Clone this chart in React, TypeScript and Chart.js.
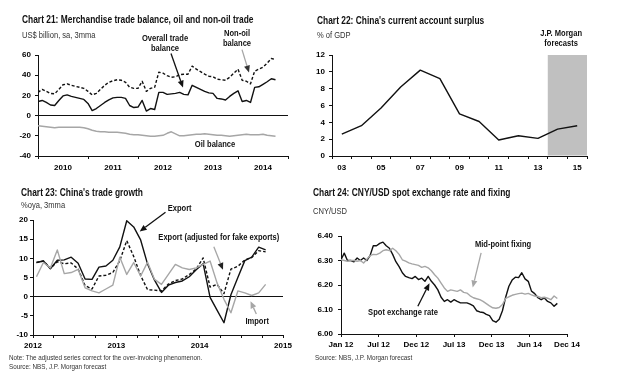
import React, { useEffect, useRef } from 'react';
import { Chart, registerables } from 'chart.js';

Chart.register(...registerables);

const FONT = '"Liberation Sans Narrow", "Arial Narrow", "Liberation Sans", Arial, sans-serif';
const INK = '#111111';
const GREY = '#a6a6a6';
const CONDENSE = 0.84;

// ---------------- Chart 21: monthly, Jan 2010 onwards (US$ bn) ----------------
const c21FirstYear = 2010;
const c21YearLabels = ['2010', '2011', '2012', '2013', '2014'];
const c21Overall = [14, 15, 13, 10.5, 10, 15, 19.5, 20.5, 19, 18, 17, 16, 12, 5, 7, 10, 13, 15.5, 17.5, 18, 18, 17, 10, 8, 8.5, 15, 4.5, 7, 6, 23, 23, 21, 21.5, 22, 23, 21, 20.5, 30, 28, 26, 24, 22.5, 22, 17, 16.5, 15.5, 19, 22, 24.5, 14, 15, 13, 28, 28.5, 31, 33.5, 36.5, 35.5];
const c21NonOil = [23, 26, 24, 22, 21.5, 26, 30.5, 31.5, 30, 29, 28, 27, 24, 20.5, 22, 26, 30, 33, 34.5, 35.5, 35, 33, 28, 27, 27, 34, 24, 27, 28, 43, 42, 39.5, 38, 38.5, 40.5, 41, 41, 49, 46, 43.5, 41, 39, 38.5, 36, 35.5, 35, 38, 42, 46, 35, 34, 31.5, 44, 46, 48, 52, 56.5, 55.5];
const c21Oil = [-10, -10.5, -11, -11.5, -12, -11.5, -11.5, -11.5, -11.5, -11.5, -11.5, -12, -13, -14.5, -15.5, -16, -16, -16.5, -16.5, -16.5, -17, -17.5, -18.5, -19, -19, -19.5, -20, -20.5, -20.5, -20, -19.5, -17.5, -16, -18, -20, -20, -19.5, -19, -18.5, -18.5, -18, -18.5, -19, -19.5, -19.5, -20, -20.5, -20, -19.5, -19, -18.5, -19, -19, -19, -18.5, -19.5, -20, -20.5];

// ---------------- Chart 22: annual, % of GDP ----------------
const c22Years = ['03', '04', '05', '06', '07', '08', '09', '10', '11', '12', '13', '14', '15'];
const c22Surplus = [2.6, 3.6, 5.7, 8.2, 10.2, 9.2, 5.0, 4.1, 1.9, 2.4, 2.1, 3.2, 3.6];
const c22ForecastStart = '14';

// ---------------- Chart 23: monthly, Jan 2012 onwards (%oya, 3mma) ----------------
const c23FirstYear = 2012;
const c23YearLabels = ['2012', '2013', '2014', '2015'];
const c23Export = [8.9, 9.3, 7.3, 9.5, 9.6, 10.3, 8.7, 4.6, 4.5, 7.7, 8.0, 9.5, 13.0, 19.8, 18.2, 14.8, 8.5, 4.3, 1.1, 3.0, 3.7, 4.1, 5.2, 7.0, 8.6, -0.2, -3.5, -6.8, 0.5, 5.0, 9.4, 10.3, 12.9, 12.2];
const c23ExportAdj = [8.9, 9.3, 7.4, 9.1, 8.6, 8.8, 7.2, 2.9, 2.0, 5.4, 5.6, 6.3, 9.4, 14.6, 10.5, 5.5, 1.8, 1.7, 1.5, 3.3, 4.2, 4.6, 5.8, 7.2, 10.1, 2.5, 3.2, 0.8, 7.2, 7.9, 9.6, 10.2, 12.0, 11.7];
const c23Import = [5.2, 8.9, 7.5, 12.2, 6.0, 6.3, 7.1, 2.3, 1.5, 1.0, 2.0, 3.0, 10.3, 5.8, 8.9, 5.4, 9.0, 4.5, 3.2, 5.8, 8.4, 7.5, 7.1, 7.5, 8.4, 9.3, 3.6, -0.7, -4.2, 1.5, 1.0, 0.3, 1.0, 3.2];

// ---------------- Chart 24: half-monthly from Jan 2012 (CNY per USD) ----------------
const c24TickLabels = ['Jan 12', 'Jul 12', 'Dec 12', 'Jul 13', 'Dec 13', 'Jun 14', 'Dec 14'];
const c24AxisMonths = 35;
const c24StepMonths = 0.5;
const c24Spot = [6.303, 6.33, 6.30, 6.30, 6.295, 6.31, 6.30, 6.31, 6.30, 6.32, 6.36, 6.36, 6.37, 6.375, 6.36, 6.35, 6.325, 6.295, 6.275, 6.25, 6.235, 6.23, 6.226, 6.235, 6.222, 6.228, 6.215, 6.235, 6.215, 6.20, 6.18, 6.15, 6.133, 6.14, 6.13, 6.14, 6.133, 6.127, 6.127, 6.127, 6.122, 6.115, 6.095, 6.09, 6.088, 6.08, 6.075, 6.055, 6.048, 6.06, 6.095, 6.15, 6.195, 6.22, 6.232, 6.23, 6.25, 6.225, 6.215, 6.175, 6.165, 6.148, 6.14, 6.147, 6.133, 6.127, 6.113, 6.125];
const c24Fixing = [6.303, 6.30, 6.297, 6.30, 6.30, 6.297, 6.30, 6.29, 6.305, 6.32, 6.325, 6.324, 6.33, 6.34, 6.344, 6.34, 6.35, 6.34, 6.325, 6.303, 6.297, 6.29, 6.286, 6.283, 6.28, 6.272, 6.276, 6.27, 6.258, 6.242, 6.228, 6.208, 6.188, 6.174, 6.18, 6.177, 6.174, 6.18, 6.17, 6.167, 6.156, 6.148, 6.144, 6.14, 6.133, 6.124, 6.115, 6.107, 6.105, 6.108, 6.12, 6.145, 6.152, 6.158, 6.162, 6.165, 6.167, 6.163, 6.166, 6.16, 6.155, 6.153, 6.148, 6.15, 6.146, 6.14, 6.155, 6.145];

// ---------------- helpers ----------------
const tickFont = { family: FONT, size: 8, weight: 'bold' as const };
const CLEAR = 'rgba(0,0,0,0)';

function lineDs(label: string, data: any[], color: string, dash: number[] = []) {
  return {
    label,
    data,
    borderColor: color,
    borderWidth: 1.4,
    borderDash: dash,
    pointRadius: 0,
    tension: 0,
    fill: false,
    borderJoinStyle: 'round' as const,
  };
}

function yScale(min: number, max: number, step: number, width: number, pad: number, zeroLine: boolean, decimals = 0) {
  return {
    type: 'linear' as const,
    min,
    max,
    afterFit: (s: any) => {
      s.width = width;
    },
    ticks: {
      stepSize: step,
      font: tickFont,
      color: '#000',
      padding: pad,
      callback: (v: any) => Number(v).toFixed(decimals),
    },
    grid: {
      drawOnChartArea: true,
      color: (c: any) => (zeroLine && c.tick && Math.abs(c.tick.value) < 1e-9 ? INK : CLEAR),
      tickColor: INK,
      tickLength: 3,
      lineWidth: 1,
    },
    border: { display: true, color: INK, width: 1 },
  };
}

function baseOptions(padding: any, scales: any) {
  return {
    responsive: false,
    maintainAspectRatio: false,
    animation: false as const,
    events: [] as any[],
    layout: { padding },
    plugins: { legend: { display: false }, tooltip: { enabled: false } },
    scales,
  };
}

type Label = { lines: string[]; x: number; y: number };
type Arrow = { x1: number; y1: number; x2: number; y2: number; shaft: string; head: string };

function annotate(labels: Label[], arrows: Arrow[]) {
  return {
    id: 'annotate',
    afterDatasetsDraw(chart: any) {
      const ctx = chart.ctx;
      const xs = chart.scales.x;
      const ys = chart.scales.y;
      ctx.save();
      for (const a of arrows) {
        const x1 = xs.getPixelForValue(a.x1);
        const y1 = ys.getPixelForValue(a.y1);
        const x2 = xs.getPixelForValue(a.x2);
        const y2 = ys.getPixelForValue(a.y2);
        const ang = Math.atan2(y2 - y1, x2 - x1);
        const hl = 7;
        const hw = 3;
        const bx = x2 - hl * Math.cos(ang);
        const by = y2 - hl * Math.sin(ang);
        ctx.strokeStyle = a.shaft;
        ctx.lineWidth = 1.3;
        ctx.setLineDash([]);
        ctx.beginPath();
        ctx.moveTo(x1, y1);
        ctx.lineTo(bx, by);
        ctx.stroke();
        ctx.fillStyle = a.head;
        ctx.beginPath();
        ctx.moveTo(x2, y2);
        ctx.lineTo(bx + hw * Math.sin(ang), by - hw * Math.cos(ang));
        ctx.lineTo(bx - hw * Math.sin(ang), by + hw * Math.cos(ang));
        ctx.closePath();
        ctx.fill();
      }
      ctx.font = `bold 9px ${FONT}`;
      ctx.fillStyle = INK;
      ctx.textAlign = 'center';
      ctx.textBaseline = 'middle';
      for (const l of labels) {
        const px = xs.getPixelForValue(l.x);
        const py = ys.getPixelForValue(l.y);
        l.lines.forEach((t, i) => {
          ctx.save();
          ctx.translate(px, py + i * 10);
          ctx.scale(CONDENSE, 1);
          ctx.fillText(t, 0, 0);
          ctx.restore();
        });
      }
      ctx.restore();
    },
  };
}

// ---------------- chart configs ----------------
function config21(): any {
  const ticks: number[] = [];
  c21YearLabels.forEach((_, i) => {
    ticks.push(c21FirstYear + i, c21FirstYear + i + 0.5);
  });
  ticks.push(c21FirstYear + c21YearLabels.length);
  const pts = (arr: number[]) => arr.map((v, i) => ({ x: c21FirstYear + i / 12, y: v }));
  return {
    type: 'line',
    data: {
      datasets: [
        lineDs('Oil balance', pts(c21Oil), GREY),
        lineDs('Non-oil balance', pts(c21NonOil), INK, [3, 2]),
        lineDs('Overall trade balance', pts(c21Overall), INK),
      ],
    },
    options: baseOptions({ top: 30, right: 12, bottom: 0, left: 0 }, {
      x: {
        type: 'linear',
        min: c21FirstYear,
        max: c21FirstYear + c21YearLabels.length,
        afterBuildTicks: (s: any) => {
          s.ticks = ticks.map((v) => ({ value: v }));
        },
        afterFit: (s: any) => {
          s.height = 24;
        },
        ticks: {
          autoSkip: false,
          maxRotation: 0,
          font: tickFont,
          color: '#000',
          padding: 4,
          callback: (v: any) => (Math.abs((v % 1) - 0.5) < 1e-6 ? c21YearLabels[Math.floor(v) - c21FirstYear] : ''),
        },
        grid: {
          drawOnChartArea: false,
          tickLength: 3,
          tickColor: (c: any) => (c.tick && Number.isInteger(c.tick.value) ? INK : CLEAR),
        },
        border: { display: true, color: INK, width: 1 },
      },
      y: yScale(-40, 60, 20, 38, 4, true),
    }),
    plugins: [
      annotate(
        [
          { lines: ['Overall trade', 'balance'], x: 2012.54, y: 76.2 },
          { lines: ['Non-oil', 'balance'], x: 2013.98, y: 81.2 },
          { lines: ['Oil balance'], x: 2013.54, y: -28.7 },
        ],
        [
          { x1: 2012.66, y1: 61.4, x2: 2012.9, y2: 27.7, shaft: INK, head: INK },
          { x1: 2014.08, y1: 65.3, x2: 2014.22, y2: 42.6, shaft: GREY, head: '#333' },
        ]
      ),
    ],
  };
}

function config22(): any {
  const shade = {
    id: 'forecastShade',
    beforeDatasetsDraw(chart: any) {
      const { ctx, chartArea } = chart;
      const xs = chart.scales.x;
      const idx = c22Years.indexOf(c22ForecastStart);
      const x0 = xs.getPixelForValue(idx - 0.5);
      ctx.save();
      ctx.fillStyle = '#c0c0c0';
      ctx.fillRect(x0, chartArea.top, chartArea.right - x0, chartArea.bottom - chartArea.top - 0.5);
      ctx.restore();
    },
  };
  return {
    type: 'line',
    data: {
      labels: c22Years,
      datasets: [lineDs('Current account surplus', c22Surplus, INK)],
    },
    options: baseOptions({ top: 30, right: 23, bottom: 0, left: 0 }, {
      x: {
        type: 'category',
        offset: true,
        afterFit: (s: any) => {
          s.height = 24;
        },
        ticks: {
          autoSkip: false,
          maxRotation: 0,
          font: tickFont,
          color: '#000',
          padding: 4,
          callback: (_v: any, i: number) => (i % 2 === 0 ? c22Years[i] : ''),
        },
        grid: { drawOnChartArea: false, offset: true, tickLength: 3, tickColor: INK },
        border: { display: true, color: INK, width: 1 },
      },
      y: yScale(0, 12, 2, 22, 4, false),
    }),
    plugins: [
      shade,
      annotate([{ lines: ['J.P. Morgan', 'forecasts'], x: 11.18, y: 14.5 }], []),
    ],
  };
}

function config23(): any {
  const ticks: number[] = [];
  for (let q = 0; q <= (c23YearLabels.length - 1) * 4; q++) ticks.push(c23FirstYear + q / 4);
  const pts = (arr: number[]) => arr.map((v, i) => ({ x: c23FirstYear + (i + 0.5) / 12, y: v }));
  return {
    type: 'line',
    data: {
      datasets: [
        lineDs('Import', pts(c23Import), GREY),
        lineDs('Export (adjusted for fake exports)', pts(c23ExportAdj), INK, [3, 2]),
        lineDs('Export', pts(c23Export), INK),
      ],
    },
    options: baseOptions({ top: 40, right: 17, bottom: 0, left: 0 }, {
      x: {
        type: 'linear',
        min: c23FirstYear,
        max: c23FirstYear + c23YearLabels.length - 1,
        afterBuildTicks: (s: any) => {
          s.ticks = ticks.map((v) => ({ value: v }));
        },
        afterFit: (s: any) => {
          s.height = 17;
        },
        ticks: {
          autoSkip: false,
          maxRotation: 0,
          font: tickFont,
          color: '#000',
          padding: 3,
          callback: (v: any) => (Number.isInteger(v) ? c23YearLabels[v - c23FirstYear] : ''),
        },
        grid: { drawOnChartArea: false, tickLength: 3, tickColor: INK },
        border: { display: true, color: INK, width: 1 },
      },
      y: yScale(-10, 20, 5, 33, 2, true),
    }),
    plugins: [
      annotate(
        [
          { lines: ['Export'], x: 2013.76, y: 22.9 },
          { lines: ['Export (adjusted for fake exports)'], x: 2014.23, y: 15.4 },
          { lines: ['Import'], x: 2014.69, y: -6.5 },
        ],
        [
          { x1: 2013.59, y1: 22.0, x2: 2013.28, y2: 17.0, shaft: INK, head: INK },
          { x1: 2014.17, y1: 13.0, x2: 2014.28, y2: 7.0, shaft: GREY, head: '#222' },
          { x1: 2014.68, y1: -4.5, x2: 2014.61, y2: -1.2, shaft: GREY, head: GREY },
        ]
      ),
    ],
  };
}

function config24(): any {
  const n = c24TickLabels.length - 1;
  const pts = (arr: number[]) => arr.map((v, i) => ({ x: i * c24StepMonths, y: v }));
  return {
    type: 'line',
    data: {
      datasets: [
        lineDs('Mid-point fixing', pts(c24Fixing), GREY),
        lineDs('Spot exchange rate', pts(c24Spot), INK),
      ],
    },
    options: baseOptions({ top: 24, right: 43, bottom: 0, left: 0 }, {
      x: {
        type: 'linear',
        min: 0,
        max: c24AxisMonths,
        afterBuildTicks: (s: any) => {
          s.ticks = c24TickLabels.map((_, i) => ({ value: (i * c24AxisMonths) / n }));
        },
        afterFit: (s: any) => {
          s.height = 18;
        },
        ticks: {
          autoSkip: false,
          maxRotation: 0,
          font: tickFont,
          color: '#000',
          padding: 3,
          callback: (_v: any, i: number) => c24TickLabels[i],
        },
        grid: { drawOnChartArea: false, tickLength: 3, tickColor: INK },
        border: { display: true, color: INK, width: 1 },
      },
      y: yScale(6.0, 6.4, 0.1, 31, 5, false, 2),
    }),
    plugins: [
      annotate(
        [
          { lines: ['Mid-point fixing'], x: 25.1, y: 6.367 },
          { lines: ['Spot exchange rate'], x: 9.6, y: 6.086 },
        ],
        [
          { x1: 21.7, y1: 6.331, x2: 20.4, y2: 6.19, shaft: GREY, head: GREY },
          { x1: 11.9, y1: 6.113, x2: 13.7, y2: 6.207, shaft: INK, head: INK },
        ]
      ),
    ],
  };
}

// ---------------- text overlay ----------------
function Txt({ x, cy, text, size, bold, color }: { x: number; cy: number; text: string; size: number; bold?: boolean; color?: string }) {
  return (
    <div
      style={{
        position: 'absolute',
        left: x,
        top: cy - 7,
        height: 14,
        lineHeight: '14px',
        fontSize: size,
        fontWeight: bold ? 'bold' : 'normal',
        fontFamily: FONT,
        color: color || INK,
        whiteSpace: 'nowrap',
        transform: `scaleX(${CONDENSE})`,
        transformOrigin: 'left center',
      }}
    >
      {text}
    </div>
  );
}

export default function App() {
  const r21 = useRef<HTMLCanvasElement>(null);
  const r22 = useRef<HTMLCanvasElement>(null);
  const r23 = useRef<HTMLCanvasElement>(null);
  const r24 = useRef<HTMLCanvasElement>(null);

  useEffect(() => {
    const charts = [
      new Chart(r21.current as HTMLCanvasElement, config21()),
      new Chart(r22.current as HTMLCanvasElement, config22()),
      new Chart(r23.current as HTMLCanvasElement, config23()),
      new Chart(r24.current as HTMLCanvasElement, config24()),
    ];
    return () => charts.forEach((c) => c.destroy());
  }, []);

  const cv = (left: number, top: number, w: number, h: number): React.CSSProperties => ({
    position: 'absolute',
    left,
    top,
    width: w,
    height: h,
  });

  return (
    <div style={{ position: 'absolute', left: 0, top: 0, width: 621, height: 373, background: '#fff', overflow: 'hidden' }}>
      <canvas ref={r21} width={300} height={155} style={cv(0, 25, 300, 155)} />
      <canvas ref={r22} width={300} height={155} style={cv(310, 25, 300, 155)} />
      <canvas ref={r23} width={300} height={172} style={cv(0, 180, 300, 172)} />
      <canvas ref={r24} width={300} height={140} style={cv(310, 212, 300, 140)} />

      <Txt x={22} cy={20} size={10} bold text="Chart 21: Merchandise trade balance, oil and non-oil trade" />
      <Txt x={22} cy={35} size={9} color="#333" text="US$ billion, sa, 3mma" />
      <Txt x={317} cy={21} size={10} bold text="Chart 22: China's current account surplus" />
      <Txt x={317} cy={35} size={9} color="#333" text="% of GDP" />
      <Txt x={21} cy={193} size={10} bold text="Chart 23: China's trade growth" />
      <Txt x={21} cy={205} size={9} color="#333" text="%oya, 3mma" />
      <Txt x={313} cy={193} size={10} bold text="Chart 24: CNY/USD spot exchange rate and fixing" />
      <Txt x={313} cy={211} size={9} color="#333" text="CNY/USD" />
      <Txt x={9} cy={358} size={7.5} color="#333" text="Note: The adjusted series correct for the over-invoicing phenomenon." />
      <Txt x={9} cy={367} size={7.5} color="#333" text="Source: NBS, J.P. Morgan forecast" />
      <Txt x={315} cy={358} size={7.5} color="#333" text="Source: NBS, J.P. Morgan forecast" />
    </div>
  );
}
